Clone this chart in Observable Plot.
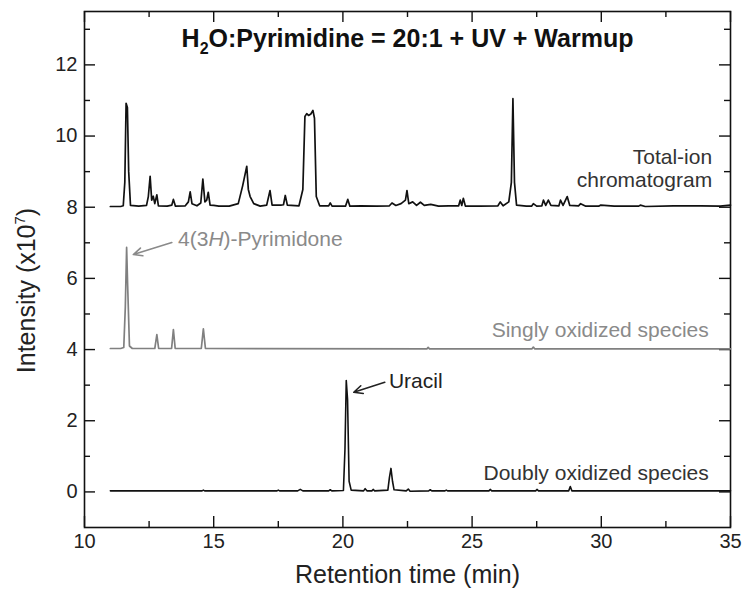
<!DOCTYPE html>
<html>
<head>
<meta charset="utf-8">
<script src="https://cdn.jsdelivr.net/npm/d3@7"></script>
<script src="https://cdn.jsdelivr.net/npm/@observablehq/plot@0.6"></script>
<style>
  html, body { margin: 0; padding: 0; background: white; }
  #chart svg { display: block; }
</style>
</head>
<body>
<div id="chart"></div>
<script>
// ---- Data (retention time in min, intensity in 1e7) ----
const ticPoints = [
  [11.0,8.02],[11.4,8.02],[11.5,8.04],[11.56,8.7],[11.61,10.92],[11.66,10.8],[11.71,9.0],[11.78,8.05],
  [12.1,8.03],[12.4,8.05],[12.47,8.3],[12.54,8.87],[12.6,8.2],[12.66,8.31],[12.72,8.1],[12.8,8.35],[12.86,8.04],
  [13.2,8.03],[13.38,8.06],[13.44,8.22],[13.52,8.03],
  [13.9,8.04],[14.02,8.15],[14.09,8.43],[14.16,8.1],[14.35,8.04],[14.5,8.12],[14.58,8.79],[14.66,8.15],[14.73,8.2],[14.79,8.42],[14.86,8.06],[15.0,8.05],
  [15.2,8.03],[15.6,8.03],[15.95,8.1],[16.12,8.6],[16.28,9.15],[16.34,8.5],[16.41,8.3],[16.55,8.1],[16.8,8.03],
  [17.05,8.06],[17.18,8.47],[17.26,8.06],[17.6,8.06],[17.7,8.07],[17.77,8.33],[17.85,8.06],
  [18.3,8.04],[18.45,8.5],[18.53,10.55],[18.6,10.63],[18.67,10.58],[18.76,10.62],[18.84,10.72],[18.9,10.5],[18.97,8.3],[19.1,8.04],
  [19.45,8.04],[19.51,8.12],[19.58,8.03],[20.1,8.03],[20.19,8.22],[20.27,8.03],[20.7,8.04],[21.3,8.03],
  [21.8,8.04],[21.9,8.12],[22.05,8.05],[22.25,8.1],[22.42,8.2],[22.48,8.47],[22.55,8.1],[22.7,8.15],[22.85,8.05],[23.0,8.14],[23.15,8.05],[23.4,8.08],[23.7,8.03],
  [24.1,8.04],[24.48,8.04],[24.54,8.2],[24.6,8.05],[24.66,8.25],[24.74,8.03],[25.3,8.03],
  [26.0,8.04],[26.09,8.15],[26.2,8.04],[26.42,8.15],[26.52,8.7],[26.58,11.05],[26.64,8.7],[26.72,8.06],
  [27.1,8.03],[27.3,8.03],[27.37,8.1],[27.5,8.03],[27.7,8.04],[27.76,8.2],[27.85,8.05],[27.95,8.2],[28.05,8.05],[28.36,8.04],[28.42,8.2],[28.52,8.05],[28.68,8.3],[28.78,8.05],
  [29.12,8.04],[29.2,8.1],[29.4,8.03],[29.9,8.03],[29.98,8.06],[30.5,8.03],[31.45,8.03],[31.51,8.06],[31.7,8.02],[32.79,8.04],[33.84,8.04],[34.6,8.03],[35.0,8.06]
];
const singlyPoints = [
  [11.0,4.03],[11.4,4.03],[11.52,4.06],[11.58,5.2],[11.63,6.87],[11.67,5.8],[11.74,4.1],[11.85,4.03],
  [12.72,4.03],[12.8,4.42],[12.87,4.03],[13.37,4.03],[13.44,4.56],[13.51,4.03],
  [14.52,4.03],[14.6,4.58],[14.68,4.03],[23.25,4.02],[23.3,4.06],[23.35,4.02],
  [27.32,4.02],[27.37,4.07],[27.42,4.02],[35.0,4.02]
];
const doublyPoints = [
  [11.0,0.03],[14.55,0.03],[14.6,0.05],[14.65,0.03],[17.45,0.03],[17.5,0.05],[17.55,0.03],[18.25,0.03],[18.35,0.07],[18.45,0.03],
  [19.45,0.03],[19.51,0.06],[19.57,0.03],
  [20.02,0.04],[20.08,1.2],[20.13,3.13],[20.18,2.6],[20.24,0.3],[20.32,0.05],
  [20.8,0.03],[20.86,0.09],[20.93,0.03],[21.12,0.03],[21.17,0.07],[21.23,0.03],
  [21.74,0.05],[21.8,0.4],[21.86,0.66],[21.92,0.3],[21.98,0.06],
  [22.45,0.03],[22.53,0.08],[22.6,0.02],[23.32,0.03],[23.38,0.06],[23.44,0.03],[23.95,0.03],[24.0,0.05],[24.05,0.03],
  [25.65,0.03],[25.7,0.07],[25.76,0.03],[27.46,0.03],[27.51,0.07],[27.57,0.03],[28.74,0.03],[28.8,0.15],[28.86,0.03],[35.0,0.03]
];

const xMajor = [10, 15, 20, 25, 30, 35];
const xMinor = [12.5, 17.5, 22.5, 27.5, 32.5];
const yMajor = [0, 2, 4, 6, 8, 10, 12];
const yMinor = [1, 3, 5, 7, 9, 11, 13];

const seriesLabels = ["Total-ion", "chromatogram", "Singly oxidized species", "Doubly oxidized species"];
const seriesLabelTime = [34.29, 34.29, 34.16, 34.16];
const seriesLabelValue = [9.40, 8.77, 4.53, 0.51];
const seriesLabelColor = ["#333333", "#333333", "#8a8a8a", "#333333"];

const peakLabels = ["4(3H)-Pyrimidone", "Uracil"];
const peakLabelTime = [13.62, 21.78];
const peakLabelValue = [7.11, 3.12];
const peakLabelColor = ["#8a8a8a", "#222222"];
const arrowFrom = [[13.38, 7.01], [21.62, 3.08]];
const arrowTo = [[11.89, 6.67], [20.42, 2.80]];

const titleText = "H2O:Pyrimidine = 20:1 + UV + Warmup";
const xTitle = "Retention time (min)";
const yTitle = "Intensity (x107)";

// ---- Layout ----
const W = 743, H = 589, mL = 84, mR = 13, mT = 11, mB = 62;
const frameW = W - mL - mR, frameH = H - mT - mB;
const majorLen = 11, minorLen = 6;

// ---- Build tables ----
const toRows = pts => pts.map(([t, v]) => ({t, v}));
const tic = toRows(ticPoints), singly = toRows(singlyPoints), doubly = toRows(doublyPoints);
const seriesRows = seriesLabels.map((s, i) => ({s, t: seriesLabelTime[i], v: seriesLabelValue[i], c: seriesLabelColor[i]}));
const peakRows = peakLabels.map((s, i) => ({s, t: peakLabelTime[i], v: peakLabelValue[i], c: peakLabelColor[i]}));
const arrowRows = arrowFrom.map((f, i) => ({x1: f[0], y1: f[1], x2: arrowTo[i][0], y2: arrowTo[i][1], c: peakLabelColor[i]}));

const font = "'Liberation Sans', Arial, Helvetica, sans-serif";
const tickStyle = {stroke: "#111", strokeWidth: 1.4};

const chart = Plot.plot({
  width: W,
  height: H,
  marginLeft: mL,
  marginRight: mR,
  marginTop: mT,
  marginBottom: mB,
  style: {fontFamily: font, background: "white", color: "#222"},
  x: {domain: [10, 35]},
  y: {domain: [-1, 13.5]},
  marks: [
    // tick labels
    Plot.axisX({anchor: "bottom", ticks: xMajor, tickSize: 0, tickPadding: 6, fontSize: 20, tickFormat: d => String(d), label: null, color: "#222"}),
    Plot.axisY({anchor: "left", ticks: yMajor, tickSize: 0, tickPadding: 7, fontSize: 20, tickFormat: d => String(d), label: null, color: "#222"}),
    // inward tick marks on all four sides
    Plot.tickX(xMajor, {x: d => d, insetTop: frameH - majorLen, ...tickStyle}),
    Plot.tickX(xMinor, {x: d => d, insetTop: frameH - minorLen, ...tickStyle}),
    Plot.tickX(xMajor, {x: d => d, insetBottom: frameH - majorLen, ...tickStyle}),
    Plot.tickX(xMinor, {x: d => d, insetBottom: frameH - minorLen, ...tickStyle}),
    Plot.tickY(yMajor, {y: d => d, insetRight: frameW - majorLen, ...tickStyle}),
    Plot.tickY(yMinor, {y: d => d, insetRight: frameW - minorLen, ...tickStyle}),
    Plot.tickY(yMajor, {y: d => d, insetLeft: frameW - majorLen, ...tickStyle}),
    Plot.tickY(yMinor, {y: d => d, insetLeft: frameW - minorLen, ...tickStyle}),
    Plot.frame({stroke: "#111", strokeWidth: 1.6}),
    // traces
    Plot.line(tic, {x: "t", y: "v", stroke: "#111", strokeWidth: 1.7}),
    Plot.line(singly, {x: "t", y: "v", stroke: "#808080", strokeWidth: 1.7}),
    Plot.line(doubly, {x: "t", y: "v", stroke: "#111", strokeWidth: 1.6}),
    // annotations
    Plot.text(seriesRows, {x: "t", y: "v", text: "s", fill: "c", textAnchor: "end", lineAnchor: "middle", fontSize: 21}),
    Plot.text(peakRows, {x: "t", y: "v", text: "s", fill: "c", textAnchor: "start", lineAnchor: "middle", fontSize: 21}),
    Plot.arrow(arrowRows, {x1: "x1", y1: "y1", x2: "x2", y2: "y2", stroke: "c", strokeWidth: 1.6, headLength: 9, headAngle: 50}),
    // titles
    Plot.text([titleText], {frameAnchor: "top", dy: 27, fontSize: 25, fontWeight: "bold", fill: "#111", textAnchor: "middle", lineAnchor: "middle"}),
    Plot.text([xTitle], {frameAnchor: "bottom", dy: 47, fontSize: 25, fill: "#222", textAnchor: "middle", lineAnchor: "middle"}),
    Plot.text([yTitle], {frameAnchor: "left", dx: -58, dy: 21, rotate: -90, fontSize: 25, fill: "#222", textAnchor: "middle", lineAnchor: "middle"})
  ]
});

document.getElementById("chart").appendChild(chart);

// ---- sub/superscripts and italics as real text ----
d3.select(chart).selectAll("text").each(function () {
  const t = d3.select(this);
  const s = this.textContent;
  if (s === titleText) {
    t.text(null);
    t.append("tspan").text("H");
    t.append("tspan").attr("dy", 7).attr("font-size", 16).text("2");
    t.append("tspan").attr("dy", -7).text("O:Pyrimidine = 20:1 + UV + Warmup");
  } else if (s === yTitle) {
    t.text(null);
    t.append("tspan").text("Intensity (x10");
    t.append("tspan").attr("dy", -10).attr("font-size", 15).text("7");
    t.append("tspan").attr("dy", 10).text(")");
  } else if (s === "4(3H)-Pyrimidone") {
    t.text(null);
    t.append("tspan").text("4(3");
    t.append("tspan").attr("font-style", "italic").text("H");
    t.append("tspan").text(")-Pyrimidone");
  }
});
</script>
</body>
</html>
